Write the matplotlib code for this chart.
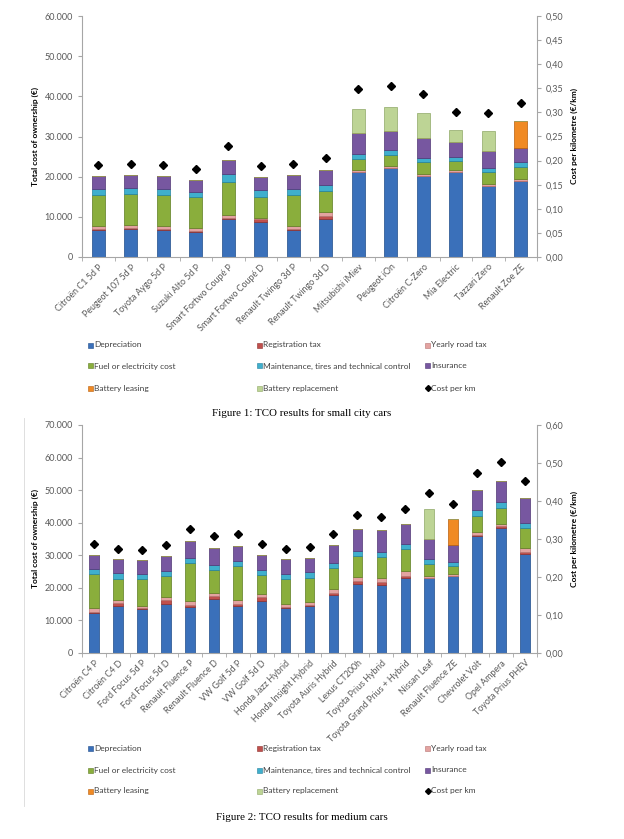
import matplotlib.pyplot as plt
import numpy as np
from matplotlib.patches import Rectangle
from matplotlib.lines import Line2D
from matplotlib.ticker import FuncFormatter, MultipleLocator

plt.rcParams['font.family'] = ['Lato', 'DejaVu Sans']

# ---- Figure 1: small city cars ----
small_cars = ['Citroën C1 5d P', 'Peugeot 107 5d P', 'Toyota Aygo 5d P', 'Suzuki Alto 5d P',
              'Smart Fortwo Coupé P', 'Smart Fortwo Coupé D', 'Renault Twingo 3d P',
              'Renault Twingo 3d D', 'Mitsubishi iMiev', 'Peugeot iOn', 'Citroën C-Zero',
              'Mia Electric', 'Tazzari Zero', 'Renault Zoe ZE']
small_dep = [6750, 6900, 6750, 6250, 9420, 8830, 6750, 9420, 21080, 22170, 20250, 21170, 17750, 18920]
small_reg = [300, 300, 300, 250, 300, 600, 300, 900, 0, 0, 0, 0, 0, 0]
small_road = [780, 880, 780, 750, 780, 400, 780, 930, 500, 500, 420, 410, 500, 580]
small_fuel = [7670, 7590, 7670, 7580, 8250, 5090, 7670, 5170, 2840, 2830, 2910, 2250, 2830, 3000]
small_maint = [1500, 1500, 1330, 1250, 1830, 1830, 1500, 1410, 1160, 1250, 1170, 1170, 1170, 1250]
small_ins = [3250, 3250, 3340, 3170, 3670, 3080, 3330, 3920, 5170, 4580, 5000, 3670, 4250, 3500]
small_lease = [0, 0, 0, 0, 0, 0, 0, 0, 0, 0, 0, 0, 0, 6500]
small_batt = [0, 0, 0, 0, 0, 0, 0, 0, 6170, 6090, 6080, 3000, 4830, 0]
small_km = [0.191, 0.193, 0.190, 0.183, 0.231, 0.188, 0.193, 0.206, 0.349, 0.355, 0.339, 0.300, 0.298, 0.320]

# ---- Figure 2: medium cars ----
med_cars = ['Citroën C4 P', 'Citroën C4 D', 'Ford Focus 5d P', 'Ford Focus 5d D',
            'Renault Fluence P', 'Renault Fluence D', 'VW Golf 5d P', 'VW Golf 5d D',
            'Honda Jazz Hybrid', 'Honda Insight Hybrid', 'Toyota Auris Hybrid', 'Lexus CT200h',
            'Toyota Prius Hybrid', 'Toyota Grand Prius + Hybrid', 'Nissan Leaf',
            'Renault Fluence ZE', 'Chevrolet Volt', 'Opel Ampera', 'Toyota Prius PHEV']
med_dep = [12190, 14340, 13620, 15160, 14230, 16690, 14540, 16080, 13820, 14440, 17820, 21300,
           20990, 23040, 23140, 23550, 35940, 38400, 30310]
med_reg = [500, 1000, 300, 1000, 600, 900, 600, 1000, 400, 450, 600, 700, 700, 700, 0, 0, 400, 450, 600]
med_road = [1030, 940, 620, 1040, 1250, 940, 1140, 940, 830, 880, 1140, 1240, 1250, 1350, 510, 620,
            830, 880, 1240]
med_fuel = [10550, 6560, 8090, 6560, 11670, 6970, 10340, 5940, 7680, 7370, 6650, 6560, 6650, 6960,
            3590, 2450, 4920, 4920, 6250]
med_maint = [1530, 1630, 1540, 1530, 1430, 1530, 1640, 1540, 1440, 1640, 1540, 1530, 1440, 1540,
             1530, 1440, 1740, 1740, 1640]
med_ins = [4410, 4410, 4400, 4510, 5120, 5230, 4610, 4710, 4600, 4400, 5330, 6870, 6650, 5940,
           6350, 5220, 6240, 6450, 7580]
med_lease = [0] * 15 + [7780, 0, 0, 0]
med_batt = [0] * 14 + [9220, 0, 0, 0, 0]
med_km = [0.288, 0.275, 0.272, 0.284, 0.326, 0.307, 0.313, 0.288, 0.274, 0.279, 0.313, 0.363,
          0.359, 0.378, 0.420, 0.391, 0.474, 0.502, 0.453]

components = ['Depreciation', 'Registration tax', 'Yearly road tax', 'Fuel or electricity cost',
              'Maintenance, tires and technical control', 'Insurance', 'Battery leasing',
              'Battery replacement']
colors = ['#3A70BA', '#C0504D', '#E3A3A1', '#8AAE3C', '#3FAFCD', '#7757A0', '#F08A24', '#BDD495']
edges = ['#1F4C8A', '#8E2F2C', '#B77472', '#5C7C20', '#23829E', '#4F3574', '#B85F0C', '#8EA866']

W, H = 624, 839
fig = plt.figure(figsize=(W / 100, H / 100), dpi=100)

def fx(px):
    return px / W

def fy(py):
    return 1 - py / H

thousands = FuncFormatter(lambda v, p: f'{int(round(v)):,}'.replace(',', '.'))
decimals = FuncFormatter(lambda v, p: f'{v:.2f}'.replace('.', ','))
grey = '#595959'
axis_col = '#A6A6A6'


def chart(top, bottom, cars, series, km, ymax, rmax, rstep, legend_y, caption_y, caption):
    ax = fig.add_axes([fx(82), fy(bottom), fx(537 - 82), (bottom - top) / H])
    x = np.arange(len(cars))
    base = np.zeros(len(cars))
    for vals, c, e in zip(series, colors, edges):
        v = np.array(vals, dtype=float)
        ax.bar(x, v, 0.4, bottom=base, color=c, edgecolor=e, linewidth=0.5)
        base += v
    ax.set_xlim(-0.5, len(cars) - 0.5)
    ax.set_ylim(0, ymax)
    ax.yaxis.set_major_locator(MultipleLocator(10000))
    ax.yaxis.set_major_formatter(thousands)
    ax.set_xticks(x)
    ax.set_xticklabels(cars, rotation=45, ha='right', rotation_mode='anchor', fontsize=6.4, color=grey)
    ax.set_xticks(np.arange(len(cars) + 1) - 0.5, minor=True)
    ax.tick_params(axis='x', which='major', length=0, pad=4)
    ax.tick_params(axis='x', which='minor', length=3, color=axis_col)
    ax.tick_params(axis='y', labelsize=6.5, labelcolor=grey, length=3, color=axis_col)
    ax.set_ylabel('Total cost of ownership (€)', fontsize=6, fontweight='bold', labelpad=4)
    for s in ['top', 'right']:
        ax.spines[s].set_visible(False)
    for s in ['left', 'bottom']:
        ax.spines[s].set_color(axis_col)

    ax2 = ax.twinx()
    ax2.plot(x, km, linestyle='none', marker='D', color='black', markersize=4.5)
    ax2.set_ylim(0, rmax)
    ax2.yaxis.set_major_locator(MultipleLocator(rstep))
    ax2.yaxis.set_major_formatter(decimals)
    ax2.tick_params(axis='y', labelsize=6.5, labelcolor=grey, length=3, color=axis_col)
    ax2.set_ylabel('Cost per kilometre (€/km)', fontsize=6, fontweight='bold', labelpad=5)
    for s in ['top', 'left', 'bottom']:
        ax2.spines[s].set_visible(False)
    ax2.spines['right'].set_color(axis_col)

    # legend, three columns
    col_x = [88, 257, 425]
    labels = components + ['Cost per km']
    for i, lab in enumerate(labels):
        r, c = divmod(i, 3)
        px, py = col_x[c], legend_y[r]
        if i < len(colors):
            fig.add_artist(Rectangle((fx(px), fy(py + 2.5)), 5 / W, 5 / H, transform=fig.transFigure,
                                     facecolor=colors[i], edgecolor=edges[i], linewidth=0.4))
        else:
            fig.add_artist(Line2D([fx(px + 2.5)], [fy(py)], marker='D', color='black',
                                  markersize=3, transform=fig.transFigure))
        fig.text(fx(px + 6), fy(py), lab, fontsize=6.0, color='#404040', va='center', ha='left')
    fig.text(fx(302), fy(caption_y), caption, fontsize=7.9, family='Liberation Serif',
             ha='center', va='center')


chart(16, 257, small_cars,
      [small_dep, small_reg, small_road, small_fuel, small_maint, small_ins, small_lease, small_batt],
      small_km, 60000, 0.5, 0.05, [345, 366, 388], 413, 'Figure 1: TCO results for small city cars')

chart(425, 653, med_cars,
      [med_dep, med_reg, med_road, med_fuel, med_maint, med_ins, med_lease, med_batt],
      med_km, 70000, 0.6, 0.1, [748, 770, 791], 817, 'Figure 2: TCO results for medium cars')

# faint chart-area border of the second figure
fig.add_artist(Line2D([fx(24), fx(24)], [fy(418), fy(806)], color='#D9D9D9', linewidth=0.6,
                      transform=fig.transFigure))

fig.savefig('out.png', dpi=100)
